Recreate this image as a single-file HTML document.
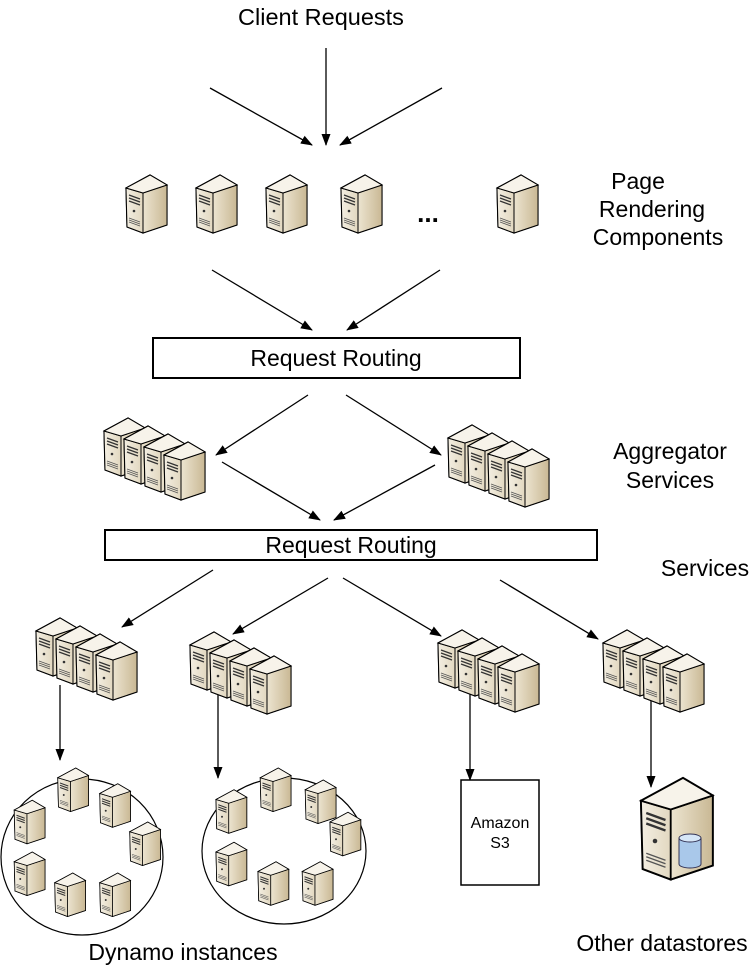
<!DOCTYPE html>
<html><head><meta charset="utf-8"><style>body{margin:0;background:#fff}svg{display:block}text{font-family:"Liberation Sans",Arial,sans-serif;fill:#000}</style></head><body>
<svg width="752" height="967" viewBox="0 0 752 967" xmlns="http://www.w3.org/2000/svg">
<defs>
<linearGradient id="fr" x1="0" x2="1"><stop offset="0" stop-color="#f3eee2"/><stop offset="1" stop-color="#e2d8c0"/></linearGradient>
<linearGradient id="sd" x1="0" x2="1"><stop offset="0" stop-color="#ece4d0"/><stop offset="1" stop-color="#c9b894"/></linearGradient>
<marker id="a" markerWidth="12" markerHeight="10" refX="11" refY="5" orient="auto" markerUnits="userSpaceOnUse"><path d="M0,0.5 L12,5 L0,9.5 z" fill="#000"/></marker>
<g id="s">
<polygon points="1,52 17,58 41,50 41,10 24,0 0,13" fill="#e0d6bf" stroke="#000" stroke-width="1.2"/>
<polygon points="0,13 17,18 17,58 1,52" fill="url(#fr)" stroke="#000" stroke-width="1"/>
<polygon points="17,18 41,10 41,50 17,58" fill="url(#sd)" stroke="#000" stroke-width="1"/>
<polygon points="0,13 24,0 41,10 17,18" fill="#f7f3ea" stroke="#000" stroke-width="1"/>
<path d="M3,20 L14,24 M3,23 L14,27 M3,26 L14,30" stroke="#333" stroke-width="1.3"/>
<circle cx="8" cy="36" r="1.3" fill="#333"/>
<path d="M3,43 L14,47 M3,45 L14,49 M3,47 L14,51" stroke="#555" stroke-width="0.8"/>
</g>
<g id="st"><use href="#s" x="0" y="0"/><use href="#s" x="20" y="8"/><use href="#s" x="40" y="16"/><use href="#s" x="60" y="24"/></g>
</defs>
<text x="321" y="25" font-size="23.5" text-anchor="middle">Client Requests</text>
<g stroke="#000" stroke-width="1.3" fill="none" marker-end="url(#a)">
<line x1="326" y1="48" x2="326" y2="145"/><line x1="210" y1="88" x2="312" y2="145"/><line x1="442" y1="88" x2="340" y2="145"/>
<line x1="212" y1="270" x2="312" y2="330"/><line x1="440" y1="270" x2="347" y2="330"/>
<line x1="308" y1="395" x2="216" y2="455"/><line x1="346" y1="395" x2="441" y2="455"/>
<line x1="222" y1="462" x2="320" y2="520"/><line x1="435" y1="465" x2="334" y2="520"/>
<line x1="213" y1="570" x2="122" y2="627"/><line x1="328" y1="578" x2="233" y2="634"/>
<line x1="343" y1="578" x2="441" y2="636"/><line x1="500" y1="580" x2="598" y2="639"/>
<line x1="60" y1="685" x2="60" y2="760"/><line x1="218" y1="688" x2="218" y2="778"/>
<line x1="470" y1="688" x2="470" y2="780"/><line x1="651" y1="688" x2="651" y2="787"/>
</g>
<use href="#s" x="126" y="175"/><use href="#s" x="196" y="175"/><use href="#s" x="266" y="175"/><use href="#s" x="341" y="175"/><use href="#s" x="497" y="175"/>
<text x="428" y="222" font-size="26" text-anchor="middle" font-weight="bold">...</text>
<g font-size="23" text-anchor="middle"><text x="638" y="189">Page</text><text x="652" y="217">Rendering</text><text x="658" y="245">Components</text>
<text x="670" y="459">Aggregator</text><text x="670" y="488">Services</text><text x="705" y="576">Services</text>
<text x="183" y="960">Dynamo instances</text><text x="662" y="951">Other datastores</text></g>
<rect x="153" y="338" width="367" height="40" fill="#fff" stroke="#000" stroke-width="2"/>
<text x="336" y="366" font-size="23" text-anchor="middle">Request Routing</text>
<rect x="105" y="530" width="492" height="30" fill="#fff" stroke="#000" stroke-width="2"/>
<text x="351" y="553" font-size="23" text-anchor="middle">Request Routing</text>
<use href="#st" x="104" y="418"/><use href="#st" x="448" y="425"/>
<use href="#st" x="36" y="618"/><use href="#st" x="190" y="632"/><use href="#st" x="438" y="630"/><use href="#st" x="603" y="630"/>
<ellipse cx="82" cy="857" rx="81" ry="78" fill="none" stroke="#000" stroke-width="1.2"/>
<ellipse cx="284" cy="851" rx="82" ry="73" fill="none" stroke="#000" stroke-width="1.2"/>
<g transform="scale(0.75)">
<use href="#s" x="77" y="1024"/><use href="#s" x="133" y="1045"/><use href="#s" x="19" y="1067"/><use href="#s" x="173" y="1096"/><use href="#s" x="19" y="1136"/><use href="#s" x="73" y="1164"/><use href="#s" x="133" y="1164"/>
<use href="#s" x="347" y="1024"/><use href="#s" x="407" y="1040"/><use href="#s" x="288" y="1053"/><use href="#s" x="440" y="1083"/><use href="#s" x="288" y="1123"/><use href="#s" x="344" y="1149"/><use href="#s" x="403" y="1149"/>
</g>
<rect x="461" y="780" width="78" height="105" fill="#fff" stroke="#000" stroke-width="1.5"/>
<text x="500" y="828" font-size="16" text-anchor="middle">Amazon</text><text x="500" y="848" font-size="16" text-anchor="middle">S3</text>
<use href="#s" transform="translate(641,778) scale(1.75)"/>
<g><path d="M679,838 v26 a11,4 0 0 0 22,0 v-26" fill="#a9c8ea" stroke="#335" stroke-width="1"/><ellipse cx="690" cy="838" rx="11" ry="4" fill="#d6e6f7" stroke="#335" stroke-width="1"/></g>
</svg>
</body></html>
